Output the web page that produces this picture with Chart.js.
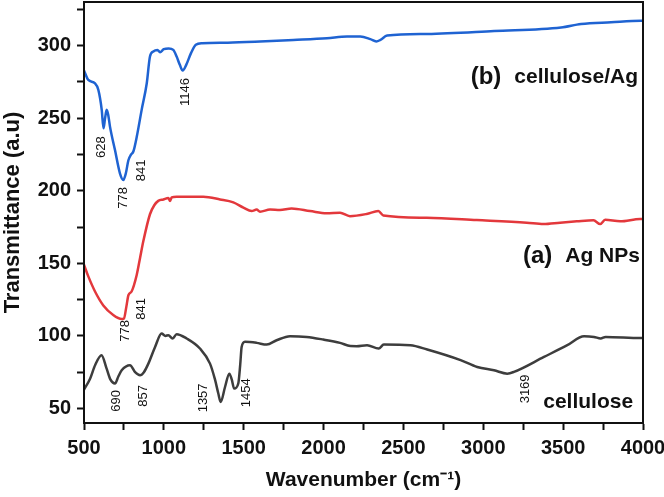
<!DOCTYPE html>
<html>
<head>
<meta charset="utf-8">
<script src="https://cdn.jsdelivr.net/npm/chart.js@4.4.0/dist/chart.umd.min.js"></script>
<style>
  html, body { margin: 0; padding: 0; background: #fff; }
  #wrap { width: 664px; height: 497px; }
</style>
</head>
<body>
<div id="wrap"><canvas id="ftir" width="664" height="497"></canvas></div>
<script>
// cellulose/Ag (b)
const blueWn = [500, 527, 569, 590, 611, 622, 632, 642, 652, 663, 694, 725, 746, 762, 778, 795, 809, 830, 861, 893, 913, 934, 960, 976, 1000, 1030, 1059, 1080, 1100, 1118, 1140, 1170, 1200, 1240, 1400, 1602, 1811, 2021, 2147, 2230, 2293, 2330, 2356, 2398, 2649, 3068, 3487, 3612, 3800, 3988, 4000];
const blueT = [282.8, 276.3, 274, 269.4, 255.7, 243, 250, 255.7, 252, 244, 228, 212, 207.4, 212, 221, 225, 227, 237, 255.7, 274, 292.4, 295.9, 297, 295.4, 297.5, 298, 297, 292.4, 286.7, 282.8, 286.7, 294.8, 300.5, 301.6, 302, 302.8, 303.9, 305.1, 306.2, 306.2, 304.4, 302.8, 303.9, 306.9, 308, 310, 312.4, 314.8, 316, 317, 317];

// Ag NPs (a)
const redWn = [500, 527, 569, 621, 683, 736, 750, 765, 778, 798, 830, 851, 871, 913, 940, 965, 997, 1028, 1039, 1049, 1080, 1247, 1352, 1435, 1498, 1550, 1581, 1602, 1665, 1727, 1800, 1915, 2019, 2103, 2165, 2270, 2343, 2374, 2646, 2959, 3272, 3377, 3481, 3586, 3690, 3732, 3763, 3857, 3982, 4000];
const redT = [149, 141, 130.6, 121, 114.4, 111.6, 112, 120, 128, 130.6, 142, 153.7, 165, 183.8, 190, 193, 194, 195, 193, 195.4, 195.8, 195.8, 194, 192, 188.4, 186, 187, 185.5, 187, 186.7, 187.8, 186, 184.4, 184.8, 182.5, 184, 186, 183, 181.4, 179.8, 178, 177, 178, 178.9, 179.6, 177, 180, 178.9, 180.5, 180.5];

// cellulose
const grayWn = [500, 538, 570, 610, 640, 665, 694, 715, 736, 788, 820, 851, 875, 903, 945, 986, 1010, 1028, 1055, 1080, 1143, 1226, 1289, 1320, 1341, 1356, 1383, 1410, 1425, 1440, 1466, 1478, 1487, 1508, 1581, 1644, 1706, 1790, 1894, 1998, 2103, 2168, 2207, 2272, 2345, 2377, 2544, 2649, 2858, 2962, 3067, 3150, 3192, 3380, 3526, 3631, 3693, 3735, 3766, 3985, 4000];
const grayT = [63, 70.5, 80, 86.7, 78, 70, 67.2, 72, 76.3, 79.8, 75, 72.9, 75, 80.9, 92.4, 101.6, 100, 100.5, 98.2, 101.2, 98.2, 91.3, 80.9, 70, 60.3, 54.5, 64.8, 74, 70, 63.7, 67.2, 80, 92.4, 95.9, 95.2, 94, 97, 99.8, 99.3, 97.5, 95.2, 93, 92.9, 93.6, 91.3, 94, 93.6, 90.6, 83.3, 78.6, 76.3, 74, 75.2, 85.5, 93.6, 99.8, 99.3, 98.2, 99.3, 98.5, 98.5];

// peak labels (wavenumber text, placed in data units)
const peakText = ["628", "778", "841", "1146", "778", "841", "690", "857", "1357", "1454", "3169"];
const peakWn = [611, 746, 861, 1132, 757, 861, 705, 871, 1247, 1519, 3261];
const peakT = [230, 195, 214, 268, 103.5, 118.6, 55.2, 58.7, 57.3, 60.8, 63.5];

// series captions
const captionTag = ["(b)", "(a)", ""];
const captionName = ["cellulose/Ag", "Ag NPs", "cellulose"];
const captionWn = [3969, 3981, 3938];
const captionT = [278.4, 155, 54.6];

const xTicks = [500, 750, 1000, 1250, 1500, 1750, 2000, 2250, 2500, 2750, 3000, 3250, 3500, 3750, 4000];
const yTicks = [50, 75, 100, 125, 150, 175, 200, 225, 250, 275, 300, 325];

const FONT = '"Liberation Sans", Arial, Helvetica, sans-serif';
const INK = "#111111";

function toPoints(xs, ys) {
  return xs.map((x, i) => ({ x, y: ys[i] }));
}

const overlay = {
  id: "overlay",
  afterDatasetsDraw(chart) {
    const { ctx, chartArea, scales } = chart;
    const x = scales.x;
    const y = scales.y;
    ctx.save();
    ctx.strokeStyle = INK;
    ctx.lineWidth = 2;
    ctx.strokeRect(chartArea.left, chartArea.top, chartArea.right - chartArea.left, chartArea.bottom - chartArea.top);

    ctx.fillStyle = INK;
    ctx.font = "13px " + FONT;
    ctx.textAlign = "center";
    ctx.textBaseline = "middle";
    peakText.forEach((t, i) => {
      ctx.save();
      ctx.translate(x.getPixelForValue(peakWn[i]), y.getPixelForValue(peakT[i]));
      ctx.rotate(-Math.PI / 2);
      ctx.fillText(t, 0, 0);
      ctx.restore();
    });

    ctx.textAlign = "right";
    captionName.forEach((name, i) => {
      const px = x.getPixelForValue(captionWn[i]);
      const py = y.getPixelForValue(captionT[i]);
      ctx.font = "bold 21px " + FONT;
      ctx.fillText(name, px, py);
      if (captionTag[i]) {
        const w = ctx.measureText(name).width;
        ctx.font = "bold 24px " + FONT;
        ctx.fillText(captionTag[i], px - w - 13, py);
      }
    });
    ctx.restore();
  }
};

new Chart(document.getElementById("ftir"), {
  type: "line",
  data: {
    datasets: [
      { label: "cellulose/Ag", data: toPoints(blueWn, blueT), borderColor: "#1f63d2" },
      { label: "Ag NPs", data: toPoints(redWn, redT), borderColor: "#e3383c" },
      { label: "cellulose", data: toPoints(grayWn, grayT), borderColor: "#3d3d3d" }
    ]
  },
  options: {
    responsive: false,
    animation: false,
    devicePixelRatio: 1,
    parsing: false,
    elements: {
      line: { borderWidth: 2.5, tension: 0, cubicInterpolationMode: "monotone", fill: false },
      point: { radius: 0 }
    },
    layout: { padding: { top: 2, right: 21, left: 0, bottom: 0 } },
    plugins: { legend: { display: false }, tooltip: { enabled: false } },
    scales: {
      x: {
        type: "linear",
        min: 500,
        max: 4000,
        afterBuildTicks: (scale) => { scale.ticks = xTicks.map((v) => ({ value: v })); },
        afterFit: (scale) => {
          scale.height = 74;
          scale.paddingLeft = 0;
          scale.paddingRight = 0;
        },
        grid: { drawOnChartArea: false, drawTicks: true, tickLength: 7, tickWidth: 2, tickColor: INK },
        border: { display: true, color: INK, width: 2 },
        ticks: {
          autoSkip: false,
          maxRotation: 0,
          padding: 6,
          color: INK,
          font: { family: FONT, size: 20, weight: "bold" },
          callback: (v) => (v % 500 === 0 ? String(v) : "")
        },
        title: {
          display: true,
          text: "Wavenumber (cm\u207B\u00B9)",
          color: INK,
          font: { family: FONT, size: 21, weight: "bold" },
          padding: { top: 0, bottom: 4 }
        }
      },
      y: {
        type: "linear",
        min: 40,
        max: 330,
        afterBuildTicks: (scale) => { scale.ticks = yTicks.map((v) => ({ value: v })); },
        afterFit: (scale) => {
          scale.width = 84;
          scale.paddingTop = 0;
          scale.paddingBottom = 0;
        },
        grid: { drawOnChartArea: false, drawTicks: true, tickLength: 7, tickWidth: 2, tickColor: INK },
        border: { display: true, color: INK, width: 2 },
        ticks: {
          autoSkip: false,
          padding: 6,
          color: INK,
          font: { family: FONT, size: 20, weight: "bold" },
          callback: (v) => (v % 50 === 0 ? String(v) : "")
        },
        title: {
          display: true,
          text: "Transmittance (a.u)",
          color: INK,
          font: { family: FONT, size: 22, weight: "bold" },
          padding: { top: 0, bottom: 0 }
        }
      }
    }
  },
  plugins: [overlay]
});
</script>
</body>
</html>
